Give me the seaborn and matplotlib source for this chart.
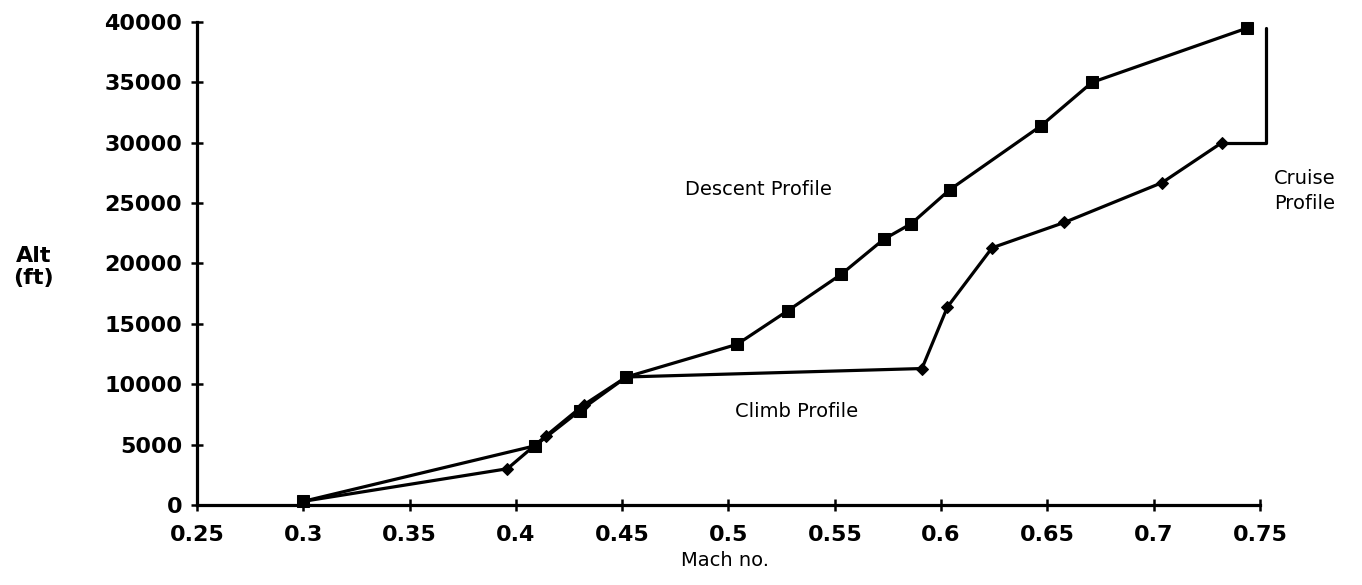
import matplotlib
matplotlib.use("Agg")
import pandas as pd
import matplotlib.pyplot as plt
import seaborn as sns

# ---- data ----
descent_mach = [0.300, 0.409, 0.430, 0.452, 0.504, 0.528, 0.553, 0.573, 0.586, 0.604, 0.647, 0.671, 0.744]
descent_alt = [300, 4900, 7800, 10600, 13300, 16100, 19100, 22000, 23300, 26100, 31400, 35000, 39500]

climb_mach = [0.300, 0.396, 0.414, 0.432, 0.452, 0.591, 0.603, 0.624, 0.658, 0.704, 0.732]
climb_alt = [300, 3000, 5700, 8300, 10600, 11300, 16400, 21300, 23400, 26700, 30000]

cruise_mach = [0.732, 0.753, 0.753]
cruise_alt = [30000, 30000, 39500]

x_ticks = [0.25, 0.3, 0.35, 0.4, 0.45, 0.5, 0.55, 0.6, 0.65, 0.7, 0.75]
x_tick_labels = ["0.25", "0.3", "0.35", "0.4", "0.45", "0.5", "0.55", "0.6", "0.65", "0.7", "0.75"]
y_ticks = [0, 5000, 10000, 15000, 20000, 25000, 30000, 35000, 40000]
y_tick_labels = ["0", "5000", "10000", "15000", "20000", "25000", "30000", "35000", "40000"]

df_descent = pd.DataFrame({"mach": descent_mach, "alt": descent_alt})
df_climb = pd.DataFrame({"mach": climb_mach, "alt": climb_alt})
df_cruise = pd.DataFrame({"mach": cruise_mach, "alt": cruise_alt})

sns.set_style("ticks")
plt.rcParams["font.family"] = ["DejaVu Sans"]
plt.rcParams["text.color"] = "black"
plt.rcParams["axes.labelcolor"] = "black"

fig = plt.figure(figsize=(13.62, 5.85), dpi=100)
ax = fig.add_axes([0.1446, 0.1368, 0.7805, 0.8256])

LW = 2.3
sns.lineplot(data=df_descent, x="mach", y="alt", sort=False, estimator=None,
             color="black", linewidth=LW, marker="s", markersize=9,
             markeredgecolor="black", markerfacecolor="black", ax=ax, clip_on=False)
sns.lineplot(data=df_climb, x="mach", y="alt", sort=False, estimator=None,
             color="black", linewidth=LW, marker="D", markersize=6,
             markeredgecolor="black", markerfacecolor="black", ax=ax, clip_on=False)
sns.lineplot(data=df_cruise, x="mach", y="alt", sort=False, estimator=None,
             color="black", linewidth=LW, ax=ax, clip_on=False)

ax.set_xlim(0.25, 0.75)
ax.set_ylim(0, 40000)
ax.set_xticks(x_ticks)
ax.set_xticklabels(x_tick_labels)
ax.set_yticks(y_ticks)
ax.set_yticklabels(y_tick_labels)

sns.despine(ax=ax)
for side in ["left", "bottom"]:
    ax.spines[side].set_linewidth(LW)
    ax.spines[side].set_color("black")
ax.tick_params(axis="both", direction="inout", length=9, width=1.8, colors="black",
               labelsize=16)
ax.tick_params(axis="y", pad=6)
ax.tick_params(axis="x", pad=10)
for lab in ax.get_xticklabels() + ax.get_yticklabels():
    lab.set_fontweight("bold")

ax.set_xlabel("Mach no.", fontsize=14, color="black")
ax.xaxis.set_label_coords(0.497, -0.095)
ax.set_ylabel("Alt\n(ft)", fontsize=16, fontweight="bold", rotation=0, color="black",
              ha="center", va="center", linespacing=1.1)
ax.yaxis.set_label_coords(-0.154, 0.493)

ax.text(0.514, 26100, "Descent Profile", fontsize=14, ha="center", va="center",
        color="black")
ax.text(0.532, 7700, "Climb Profile", fontsize=14, ha="center", va="center",
        color="black")
ax.text(0.771, 26000, "Cruise\nProfile", fontsize=14, ha="center", va="center",
        linespacing=1.35, color="black")

fig.savefig("out.png", dpi=100, facecolor="white")
